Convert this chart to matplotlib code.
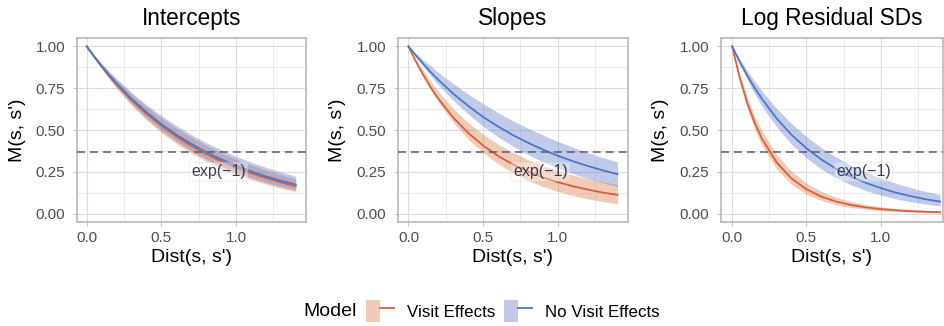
import numpy as np
import matplotlib
matplotlib.use("Agg")
import matplotlib.pyplot as plt
from matplotlib.patches import Patch
from matplotlib.lines import Line2D
from matplotlib.legend_handler import HandlerTuple

plt.rcParams['font.family'] = ['Liberation Sans', 'DejaVu Sans']

# distance grid
dist = [0, 0.05, 0.1, 0.15, 0.2, 0.3, 0.4, 0.5, 0.6, 0.7, 0.8, 0.9, 1.0, 1.1, 1.2, 1.3, 1.4]

panel_titles = ["Intercepts", "Slopes", "Log Residual SDs"]
model_names = ["Visit Effects", "No Visit Effects"]

# Intercepts
int_visit = [1, 0.938, 0.879, 0.824, 0.773, 0.679, 0.597, 0.525, 0.461, 0.405, 0.356, 0.313, 0.275, 0.242, 0.213, 0.187, 0.164]
int_visit_lo = [1, 0.930, 0.865, 0.805, 0.748, 0.647, 0.560, 0.484, 0.419, 0.362, 0.313, 0.271, 0.235, 0.203, 0.176, 0.152, 0.131]
int_visit_hi = [1, 0.946, 0.894, 0.845, 0.799, 0.715, 0.639, 0.571, 0.511, 0.457, 0.408, 0.365, 0.326, 0.292, 0.261, 0.233, 0.208]
int_novisit = [1, 0.939, 0.882, 0.829, 0.779, 0.687, 0.607, 0.535, 0.472, 0.417, 0.368, 0.325, 0.287, 0.253, 0.223, 0.197, 0.174]
int_novisit_lo = [1, 0.932, 0.869, 0.811, 0.756, 0.657, 0.571, 0.497, 0.432, 0.375, 0.326, 0.284, 0.247, 0.214, 0.186, 0.162, 0.141]
int_novisit_hi = [1, 0.948, 0.899, 0.852, 0.807, 0.725, 0.652, 0.586, 0.526, 0.473, 0.425, 0.382, 0.343, 0.308, 0.277, 0.249, 0.224]

# Slopes
slo_visit = [1, 0.909, 0.827, 0.753, 0.687, 0.574, 0.482, 0.407, 0.345, 0.294, 0.252, 0.217, 0.188, 0.164, 0.144, 0.126, 0.112]
slo_visit_lo = [1, 0.904, 0.817, 0.739, 0.668, 0.546, 0.446, 0.364, 0.298, 0.243, 0.199, 0.162, 0.133, 0.108, 0.0886, 0.0724, 0.0591]
slo_visit_hi = [1, 0.922, 0.852, 0.788, 0.730, 0.628, 0.544, 0.474, 0.415, 0.365, 0.323, 0.287, 0.257, 0.231, 0.209, 0.190, 0.174]
slo_novisit = [1, 0.945, 0.894, 0.845, 0.800, 0.717, 0.644, 0.578, 0.521, 0.469, 0.424, 0.383, 0.346, 0.314, 0.285, 0.259, 0.236]
slo_novisit_lo = [1, 0.937, 0.878, 0.823, 0.771, 0.677, 0.595, 0.522, 0.458, 0.403, 0.353, 0.310, 0.273, 0.239, 0.210, 0.185, 0.162]
slo_novisit_hi = [1, 0.959, 0.919, 0.882, 0.845, 0.777, 0.715, 0.657, 0.604, 0.555, 0.511, 0.470, 0.432, 0.397, 0.365, 0.336, 0.309]

# Log residual SDs
lrs_visit = [1, 0.816, 0.667, 0.547, 0.449, 0.306, 0.210, 0.146, 0.102, 0.0724, 0.0518, 0.0374, 0.0273, 0.0201, 0.0150, 0.0113, 0.0086]
lrs_visit_lo = [1, 0.796, 0.635, 0.508, 0.408, 0.266, 0.175, 0.116, 0.0786, 0.0536, 0.0370, 0.0259, 0.0183, 0.0131, 0.0095, 0.0070, 0.0052]
lrs_visit_hi = [1, 0.836, 0.700, 0.588, 0.495, 0.352, 0.253, 0.183, 0.133, 0.0979, 0.0725, 0.0541, 0.0408, 0.0309, 0.0237, 0.0182, 0.0142]
lrs_novisit = [1, 0.910, 0.829, 0.754, 0.687, 0.569, 0.471, 0.391, 0.324, 0.268, 0.222, 0.184, 0.153, 0.126, 0.105, 0.0868, 0.0719]
lrs_novisit_lo = [1, 0.896, 0.803, 0.719, 0.644, 0.517, 0.415, 0.333, 0.267, 0.214, 0.172, 0.138, 0.111, 0.0889, 0.0714, 0.0573, 0.0460]
lrs_novisit_hi = [1, 0.925, 0.856, 0.793, 0.733, 0.628, 0.538, 0.461, 0.395, 0.338, 0.289, 0.248, 0.212, 0.182, 0.156, 0.133, 0.114]

panels = [
    [(int_visit, int_visit_lo, int_visit_hi), (int_novisit, int_novisit_lo, int_novisit_hi)],
    [(slo_visit, slo_visit_lo, slo_visit_hi), (slo_novisit, slo_novisit_lo, slo_novisit_hi)],
    [(lrs_visit, lrs_visit_lo, lrs_visit_hi), (lrs_novisit, lrs_novisit_lo, lrs_novisit_hi)],
]

ref_level = np.exp(-1)
line_cols = ["#D8603D", "#4A78C9"]
fill_cols = ["#DE7D48", "#667DCA"]
fill_alpha = 0.4

W, H = 945, 326
fig = plt.figure(figsize=(W / 100, H / 100), dpi=100)

# panel boxes in pixels: left, right ; top/bottom shared
boxes = [(77, 306), (398, 628), (721, 943)]
top, bot = 38, 222
xlims = [(-0.065, 1.469), (-0.07, 1.47), (-0.075, 1.42)]

for i, (l, r) in enumerate(boxes):
    ax = fig.add_axes([l / W, 1 - bot / H, (r - l) / W, (bot - top) / H])
    for k, (m, lo, hi) in enumerate(panels[i]):
        ax.fill_between(dist, lo, hi, color=fill_cols[k], alpha=fill_alpha, lw=0, zorder=2)
    for k, (m, lo, hi) in enumerate(panels[i]):
        ax.plot(dist, m, color=line_cols[k], lw=1.3, zorder=3)
    ax.axhline(ref_level, color="#5A5A72", lw=1.1, ls=(0, (5.2, 3.3)), zorder=4)
    ax.text(0.7, 0.25, "exp(\u22121)", fontsize=11.5, color="#3C3C52", ha="left", va="center",
            zorder=5,
            bbox=dict(boxstyle="round,pad=0.12", fc=(1, 1, 1, 0.35), ec=(0.8, 0.8, 0.85, 0.4), lw=0.6))

    ax.set_xlim(*xlims[i])
    ax.set_ylim(-0.05, 1.05)
    ax.set_xticks([0, 0.5, 1.0])
    ax.set_xticklabels(["0.0", "0.5", "1.0"])
    ax.set_xticks([0.25, 0.75, 1.25], minor=True)
    ax.set_yticks([0, 0.25, 0.5, 0.75, 1.0])
    ax.set_yticklabels(["0.00", "0.25", "0.50", "0.75", "1.00"])
    ax.set_yticks([0.125, 0.375, 0.625, 0.875], minor=True)
    ax.grid(which="major", color="#DCDCDC", lw=0.8, zorder=0)
    ax.grid(which="minor", color="#E6E6E6", lw=0.6, zorder=0)
    ax.set_axisbelow(True)
    for s in ax.spines.values():
        s.set_color("#B3B3B3")
        s.set_linewidth(1.1)
    ax.tick_params(which="major", length=3, width=0.6, color="#B3B3B3", labelsize=11,
                   labelcolor="#4D4D4D")
    ax.tick_params(axis="x", which="major", pad=3.2)
    ax.tick_params(axis="y", which="major", pad=5.5)
    ax.tick_params(which="minor", length=0)

    ax.set_title(panel_titles[i], fontsize=16.3, pad=9, color="black")
    ax.set_xlabel("Dist(s, s')", fontsize=14)
    ax.set_ylabel("M(s, s')", fontsize=14)
    hgt = bot - top
    ax.xaxis.set_label_coords(0.5, -(257 - bot) / hgt)
    ax.xaxis.label.set_va("center")
    ax.yaxis.set_label_coords(-60 / (r - l), 0.5)
    ax.yaxis.label.set_va("center")

# legend at the bottom
fig.text(303 / W, 1 - 311 / H, "Model", fontsize=14, ha="left", va="center")
handles = []
for k in range(2):
    handles.append((Patch(facecolor=fill_cols[k], alpha=fill_alpha, lw=0),
                    Line2D([], [], color=line_cols[k], lw=1.3)))
fig.legend(handles, model_names, loc="center left", bbox_to_anchor=(366 / W, 1 - 311 / H),
           ncol=2, frameon=False, fontsize=12.2, handlelength=1.65, handleheight=1.65,
           handletextpad=0.75, columnspacing=0.55, borderpad=0, borderaxespad=0,
           handler_map={tuple: HandlerTuple(ndivide=None, pad=0)})

fig.savefig("out.png", dpi=100)
